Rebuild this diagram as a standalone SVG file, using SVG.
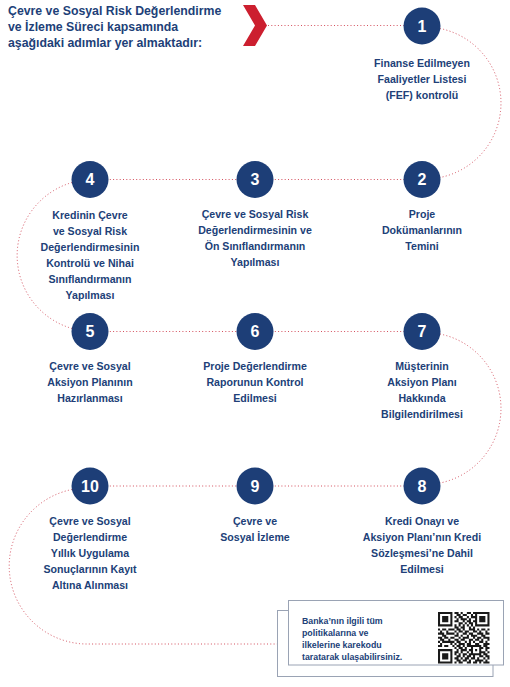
<svg xmlns="http://www.w3.org/2000/svg" width="510" height="687" viewBox="0 0 510 687">
<style>
.t{font-family:"Liberation Sans",Arial,sans-serif;font-weight:bold;fill:#213f78}
.title{font-size:12.3px}
.lbl{font-size:10.6px;text-anchor:middle}
.num{font-family:"Liberation Sans",Arial,sans-serif;font-weight:bold;font-size:16px;fill:#fff;text-anchor:middle}
.node circle{fill:#1d3e77}
.dot{fill:none;stroke:#d4505e;stroke-width:1;stroke-dasharray:1 2.3}
.box{fill:#fff;stroke:#9aa3b4;stroke-width:1}
.note{font-size:8.8px}
</style>
<rect width="510" height="687" fill="#fff"/>
<g id="title">
<text class="t title"><tspan x="8" y="14.5">Çevre ve Sosyal Risk Değerlendirme</tspan><tspan x="8" y="30.5">ve İzleme Süreci kapsamında</tspan><tspan x="8" y="46.5">aşağıdaki adımlar yer almaktadır:</tspan></text>
<polygon points="243,5 255,5 267,25.5 255,46 243,46 255,25.5" fill="#cc1f2f"/>
</g>
<g id="connectors">
<path class="dot" d="M268 25.5H404"/>
<path class="dot" d="M440 28.5A76 76 0 0 1 440 177.5"/>
<path class="dot" d="M255 179.5H422"/>
<path class="dot" d="M90 179.5H255"/>
<path class="dot" d="M72 182.5A76 76 0 0 0 72 328.5"/>
<path class="dot" d="M90 331.5H422"/>
<path class="dot" d="M440 334A76 76 0 0 1 440 483"/>
<path class="dot" d="M90 486H422"/>
<path class="dot" d="M72 489.5A78 78 0 0 0 88 644H277"/>
</g>
<g id="n1" class="node"><circle cx="422" cy="26" r="18.5"/><text class="num" x="422" y="31.8">1</text>
<text class="t lbl"><tspan x="422" y="67">Finanse Edilmeyen</tspan><tspan x="422" y="83">Faaliyetler Listesi</tspan><tspan x="422" y="99">(FEF) kontrolü</tspan></text></g>
<g id="n2" class="node"><circle cx="422" cy="179.5" r="18.5"/><text class="num" x="422" y="185.3">2</text>
<text class="t lbl"><tspan x="422" y="218">Proje</tspan><tspan x="422" y="234">Dokümanlarının</tspan><tspan x="422" y="250">Temini</tspan></text></g>
<g id="n3" class="node"><circle cx="255" cy="179.5" r="18.5"/><text class="num" x="255" y="185.3">3</text>
<text class="t lbl"><tspan x="255" y="218">Çevre ve Sosyal Risk</tspan><tspan x="255" y="234">Değerlendirmesinin ve</tspan><tspan x="255" y="250">Ön Sınıflandırmanın</tspan><tspan x="255" y="266">Yapılması</tspan></text></g>
<g id="n4" class="node"><circle cx="90" cy="179.5" r="18.5"/><text class="num" x="90" y="185.3">4</text>
<text class="t lbl"><tspan x="90" y="219">Kredinin Çevre</tspan><tspan x="90" y="235">ve Sosyal Risk</tspan><tspan x="90" y="251">Değerlendirmesinin</tspan><tspan x="90" y="267">Kontrolü ve Nihai</tspan><tspan x="90" y="283">Sınıflandırmanın</tspan><tspan x="90" y="299">Yapılması</tspan></text></g>
<g id="n5" class="node"><circle cx="90" cy="331.5" r="18.5"/><text class="num" x="90" y="337.3">5</text>
<text class="t lbl"><tspan x="90" y="370">Çevre ve Sosyal</tspan><tspan x="90" y="386">Aksiyon Planının</tspan><tspan x="90" y="402">Hazırlanması</tspan></text></g>
<g id="n6" class="node"><circle cx="255" cy="331.5" r="18.5"/><text class="num" x="255" y="337.3">6</text>
<text class="t lbl"><tspan x="255" y="370">Proje Değerlendirme</tspan><tspan x="255" y="386">Raporunun Kontrol</tspan><tspan x="255" y="402">Edilmesi</tspan></text></g>
<g id="n7" class="node"><circle cx="422" cy="331.5" r="18.5"/><text class="num" x="422" y="337.3">7</text>
<text class="t lbl"><tspan x="422" y="370">Müşterinin</tspan><tspan x="422" y="386">Aksiyon Planı</tspan><tspan x="422" y="402">Hakkında</tspan><tspan x="422" y="418">Bilgilendirilmesi</tspan></text></g>
<g id="n8" class="node"><circle cx="422" cy="486" r="18.5"/><text class="num" x="422" y="491.8">8</text>
<text class="t lbl"><tspan x="422" y="525">Kredi Onayı ve</tspan><tspan x="422" y="541">Aksiyon Planı’nın Kredi</tspan><tspan x="422" y="557">Sözleşmesi’ne Dahil</tspan><tspan x="422" y="573">Edilmesi</tspan></text></g>
<g id="n9" class="node"><circle cx="255" cy="486" r="18.5"/><text class="num" x="255" y="491.8">9</text>
<text class="t lbl"><tspan x="255" y="525">Çevre ve</tspan><tspan x="255" y="541">Sosyal İzleme</tspan></text></g>
<g id="n10" class="node"><circle cx="90" cy="486" r="18.5"/><text class="num" x="90" y="491.8">10</text>
<text class="t lbl"><tspan x="90" y="525">Çevre ve Sosyal</tspan><tspan x="90" y="541">Değerlendirme</tspan><tspan x="90" y="557">Yıllık Uygulama</tspan><tspan x="90" y="573">Sonuçlarının Kayıt</tspan><tspan x="90" y="589">Altına Alınması</tspan></text></g>
<g id="note">
<rect class="box" x="277.5" y="610.5" width="215.5" height="66"/>
<rect class="box" x="288.5" y="600.5" width="215" height="64.5"/>
<text class="t note"><tspan x="302" y="623.5">Banka’nın ilgili tüm</tspan><tspan x="302" y="635.7">politikalarına ve</tspan><tspan x="302" y="647.9">ilkelerine karekodu</tspan><tspan x="302" y="660.1">taratarak ulaşabilirsiniz.</tspan></text>
<g transform="translate(438,612) scale(2.06)">
<path fill="none" stroke="#1a1a1a" stroke-width="1" d="M0 .5h7M8 .5h2M11 .5h1M14 .5h2M17 .5h8M0 1.5h1M6 1.5h1M9 1.5h2M12 1.5h2M16 1.5h1M18 1.5h1M24 1.5h1M0 2.5h1M2 2.5h3M6 2.5h1M8 2.5h1M10 2.5h2M14 2.5h1M16 2.5h3M20 2.5h3M24 2.5h1M0 3.5h1M2 3.5h3M6 3.5h1M9 3.5h1M11 3.5h3M15 3.5h1M18 3.5h1M20 3.5h3M24 3.5h1M0 4.5h1M2 4.5h3M6 4.5h1M8 4.5h2M12 4.5h1M14 4.5h2M17 4.5h2M20 4.5h3M24 4.5h1M0 5.5h1M6 5.5h1M10 5.5h2M13 5.5h1M15 5.5h2M18 5.5h1M24 5.5h1M0 6.5h7M8 6.5h1M10 6.5h1M12 6.5h1M14 6.5h1M16 6.5h1M18 6.5h7M8 7.5h2M11 7.5h2M15 7.5h1M17 7.5h1M0 8.5h1M2 8.5h2M5 8.5h3M9 8.5h2M12 8.5h1M15 8.5h3M19 8.5h1M21 8.5h2M24 8.5h1M1 9.5h1M4 9.5h1M8 9.5h1M10 9.5h2M13 9.5h2M17 9.5h2M20 9.5h1M23 9.5h1M0 10.5h3M4 10.5h4M9 10.5h1M12 10.5h2M15 10.5h2M19 10.5h3M23 10.5h2M2 11.5h2M8 11.5h2M11 11.5h1M14 11.5h1M16 11.5h3M21 11.5h2M0 12.5h2M3 12.5h2M6 12.5h2M10 12.5h1M12 12.5h3M17 12.5h1M19 12.5h2M22 12.5h3M1 13.5h2M5 13.5h1M8 13.5h2M11 13.5h2M15 13.5h2M18 13.5h2M21 13.5h1M24 13.5h1M0 14.5h1M2 14.5h6M9 14.5h2M13 14.5h1M15 14.5h1M17 14.5h1M20 14.5h2M23 14.5h1M1 15.5h1M6 15.5h1M8 15.5h1M10 15.5h3M14 15.5h2M18 15.5h2M22 15.5h3M0 16.5h2M3 16.5h2M7 16.5h1M9 16.5h2M12 16.5h1M14 16.5h7M22 16.5h2M8 17.5h1M10 17.5h2M13 17.5h1M16 17.5h1M20 17.5h2M23 17.5h2M0 18.5h7M9 18.5h1M11 18.5h3M15 18.5h2M18 18.5h1M20 18.5h1M23 18.5h1M0 19.5h1M6 19.5h1M8 19.5h2M11 19.5h1M14 19.5h1M16 19.5h1M20 19.5h3M24 19.5h1M0 20.5h1M2 20.5h3M6 20.5h1M8 20.5h1M10 20.5h1M12 20.5h2M15 20.5h6M22 20.5h2M0 21.5h1M2 21.5h3M6 21.5h1M9 21.5h2M12 21.5h1M14 21.5h2M17 21.5h1M20 21.5h2M23 21.5h2M0 22.5h1M2 22.5h3M6 22.5h1M8 22.5h2M11 22.5h1M13 22.5h2M16 22.5h2M19 22.5h1M22 22.5h1M24 22.5h1M0 23.5h1M6 23.5h1M9 23.5h2M12 23.5h2M15 23.5h1M18 23.5h4M23 23.5h1M0 24.5h7M8 24.5h1M10 24.5h2M14 24.5h2M17 24.5h2M20 24.5h1M22 24.5h3"/>
</g>
</g>
</svg>
